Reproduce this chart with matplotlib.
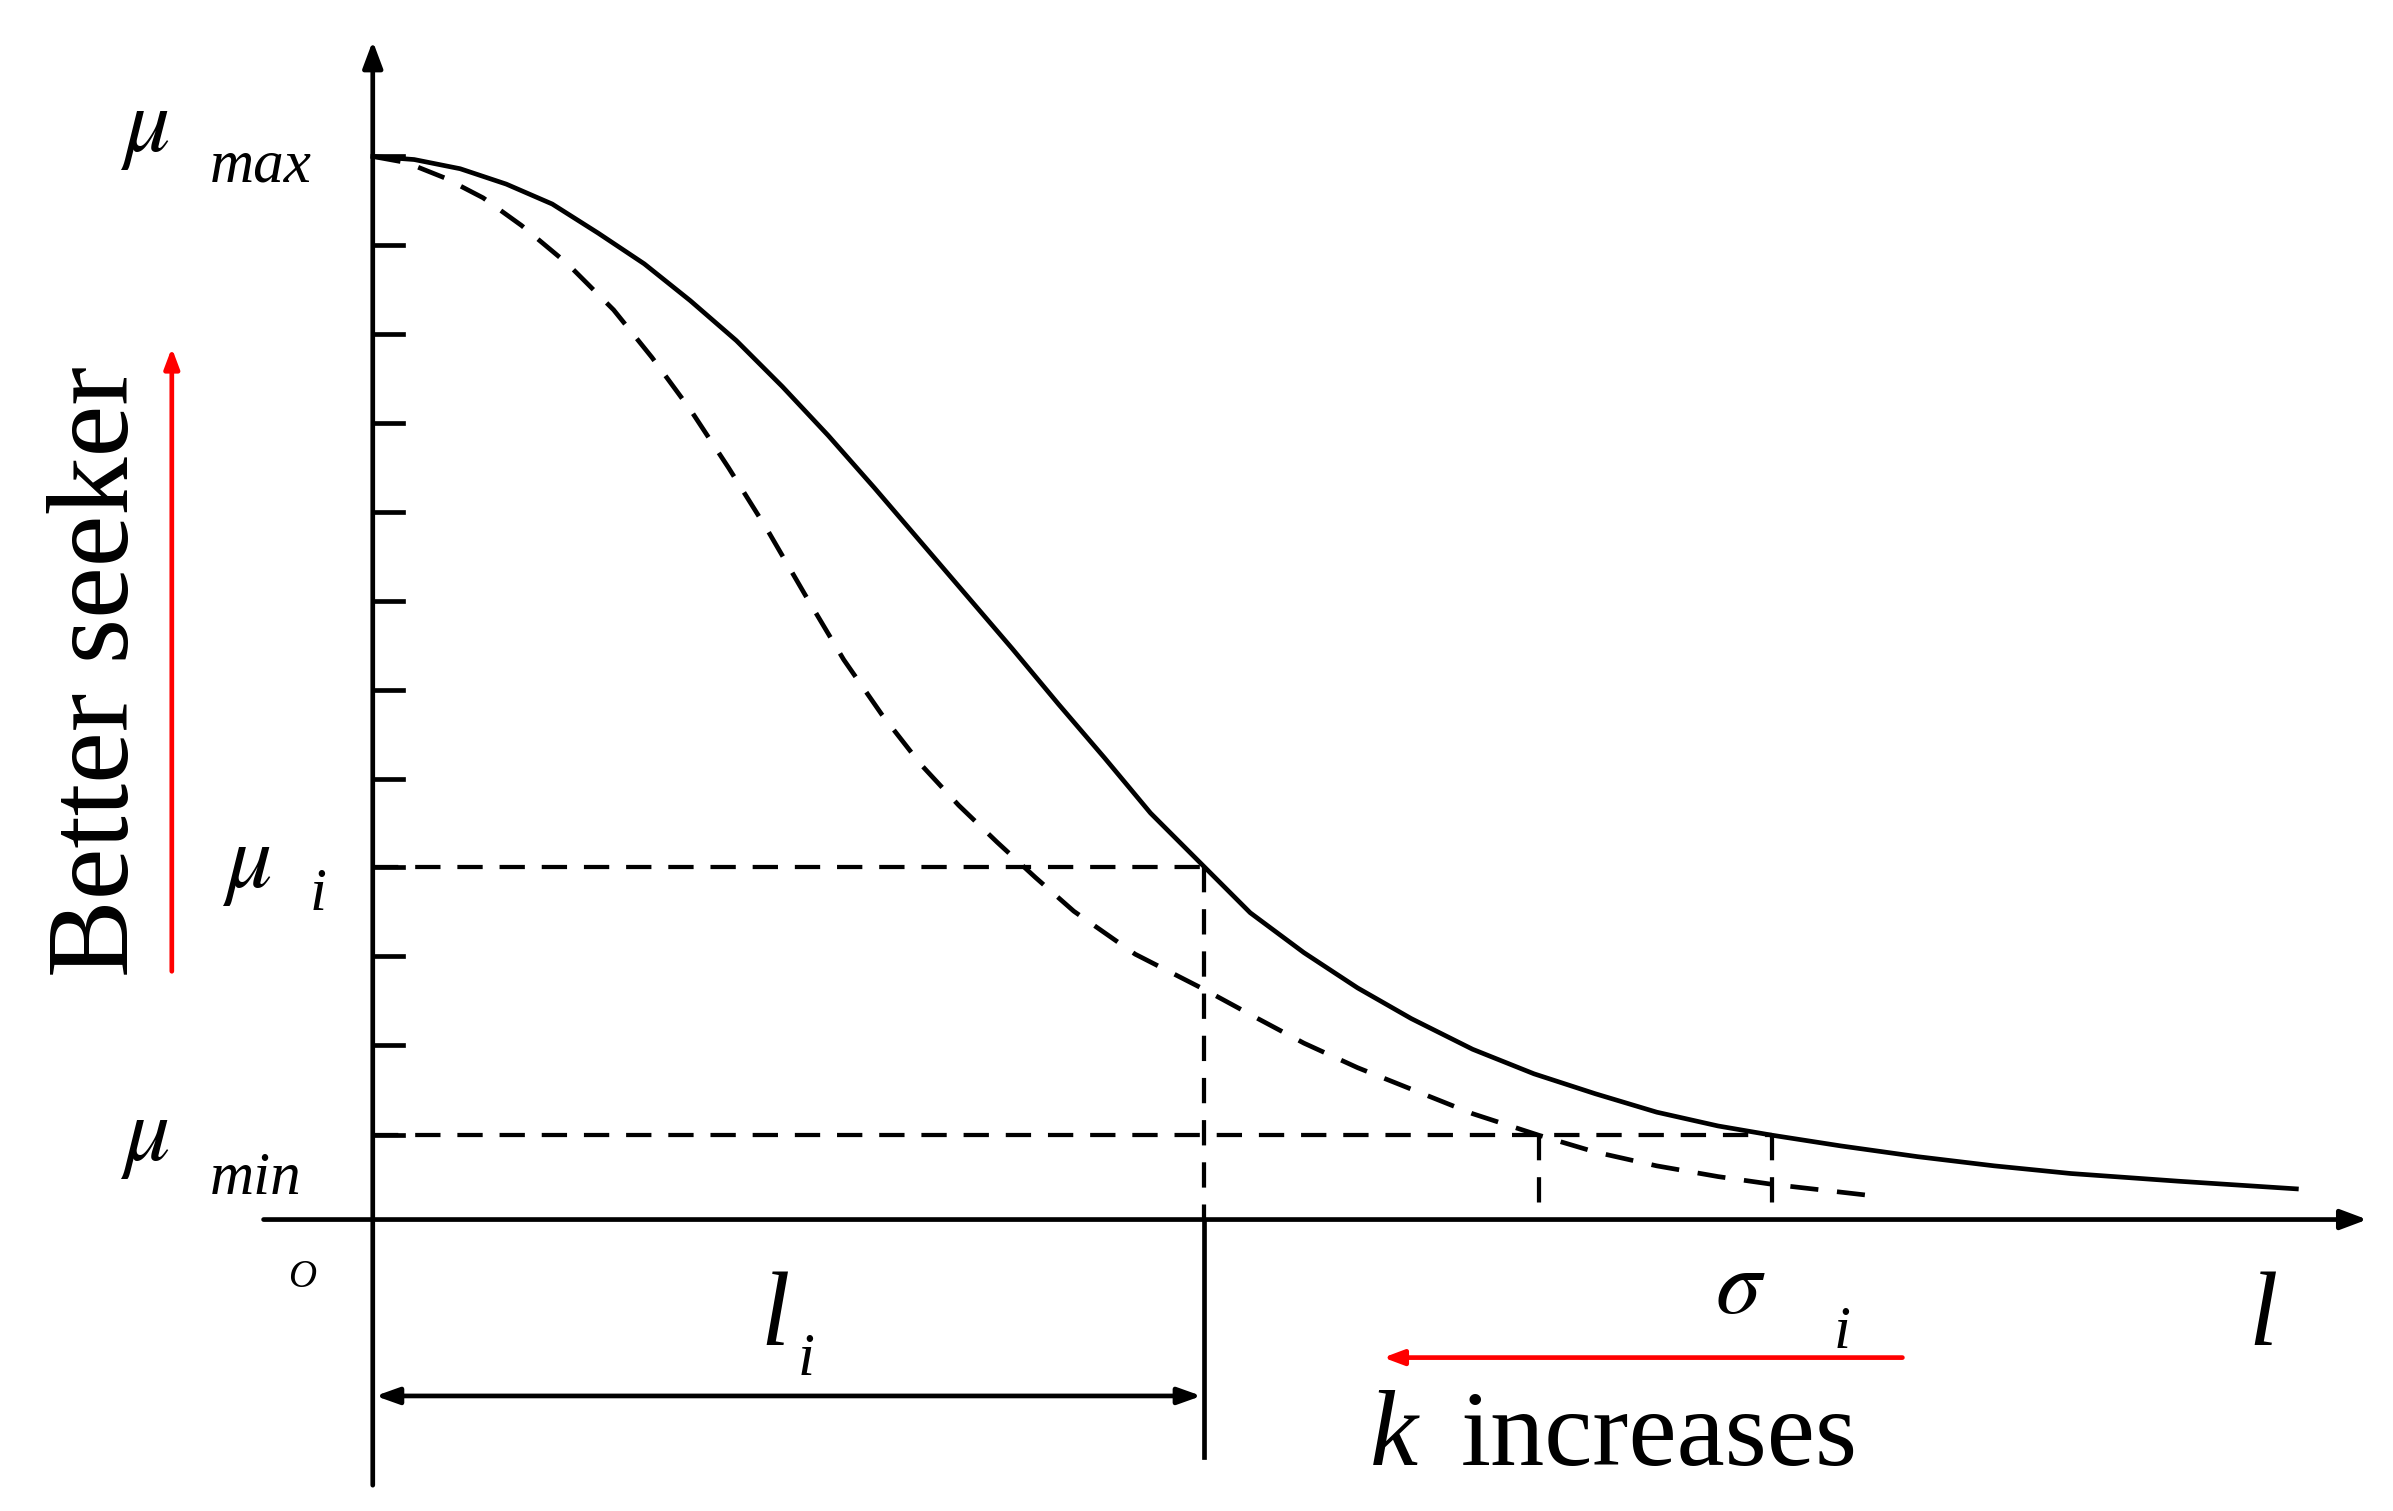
import matplotlib
matplotlib.use("Agg")
import matplotlib.pyplot as plt

# coordinates in reference-pixel space (1560 x 985 display), y downward
solid_x = [243,270,300,330,360,390,420,450,480,510,540,570,600,630,660,690,720,750,785,815,850,885,920,960,1000,1040,1080,1120,1155,1200,1250,1300,1350,1420,1497]
solid_y = [102,104,110,120,133,152,172,196,222,252,284,318,353,388,423,459,494,530,565,595,621,644,664,684,700,713,725,734,740,747,754,760,765,770,775]
dash_x = [243,265,290,315,340,370,400,425,450,475,500,525,550,575,600,625,650,675,700,740,785,820,850,885,920,960,1003,1040,1080,1120,1155,1190,1225]
dash_y = [102,106,116,129,147,172,202,233,267,305,345,388,430,466,498,525,549,572,594,622,645,664,680,696,710,726,740,751,760,767,772,776,780]
tick_y = [160,218,276,334,392,450,508,623,681]

plt.rcParams['font.family'] = ['Liberation Serif', 'DejaVu Serif']
plt.rcParams['mathtext.fontset'] = 'stix'
fig = plt.figure(figsize=(23.93, 15.11), dpi=100)
ax = fig.add_axes([0, 0, 1, 1])
ax.set_xlim(0, 1560); ax.set_ylim(985, 0); ax.axis('off')
S = 1.534
lw = 2.2*S

ax.plot(solid_x, solid_y, color='black', lw=lw)
ax.plot(dash_x, dash_y, color='black', lw=lw, ls=(0, (6, 4)))
ax.annotate('', xy=(243, 25), xytext=(243, 970), arrowprops=dict(arrowstyle='-|>,head_length=1.6,head_width=0.6', color='black', lw=lw))
ax.annotate('', xy=(1545, 795), xytext=(170, 795), arrowprops=dict(arrowstyle='-|>,head_length=1.6,head_width=0.6', color='black', lw=lw))
for y in tick_y + [102, 565, 740]:
    ax.plot([243, 263], [y, y], color='black', lw=lw)
ax.plot([243, 785], [565, 565], color='black', lw=lw*0.9, ls=(0, (6, 4)))
ax.plot([785, 785], [565, 795], color='black', lw=lw*0.9, ls=(0, (6, 4)))
ax.plot([243, 1155], [740, 740], color='black', lw=lw*0.9, ls=(0, (6, 4)))
ax.plot([1003, 1003], [740, 795], color='black', lw=lw*0.9, ls=(0, (6, 4)))
ax.plot([1155, 1155], [740, 795], color='black', lw=lw*0.9, ls=(0, (6, 4)))
ax.plot([785, 785], [795, 950], color='black', lw=lw)
ax.annotate('', xy=(243, 910), xytext=(785, 910), arrowprops=dict(arrowstyle='<|-|>,head_length=1.4,head_width=0.5', color='black', lw=lw))
ax.annotate('', xy=(112, 225), xytext=(112, 635), arrowprops=dict(arrowstyle='-|>,head_length=1.2,head_width=0.45', color='red', lw=lw))
ax.annotate('', xy=(900, 885), xytext=(1242, 885), arrowprops=dict(arrowstyle='-|>,head_length=1.2,head_width=0.45', color='red', lw=lw))

big = 66; sub = 44
ax.text(78, 112, r'$\mu$', fontsize=big, va='bottom')
ax.text(137, 127, 'max', fontsize=sub, style='italic', va='bottom')
ax.text(145, 592, r'$\mu$', fontsize=big, va='bottom')
ax.text(202, 602, 'i', fontsize=sub, style='italic', va='bottom')
ax.text(78, 770, r'$\mu$', fontsize=big, va='bottom')
ax.text(137, 787, 'min', fontsize=sub, style='italic', va='bottom')
ax.text(188, 845, 'O', fontsize=28, style='italic', va='bottom')
ax.text(496, 892, 'l', fontsize=76, style='italic', va='bottom')
ax.text(520, 905, 'i', fontsize=sub, style='italic', va='bottom')
ax.text(1118, 868, r'$\sigma$', fontsize=big, va='bottom')
ax.text(1195, 887, 'i', fontsize=sub, style='italic', va='bottom')
ax.text(1466, 892, 'l', fontsize=76, style='italic', va='bottom')
ax.text(893, 970, 'k', fontsize=78, style='italic', va='bottom')
ax.text(952, 970, 'increases', fontsize=78, va='bottom')
ax.text(65, 438, 'Better seeker', fontsize=84, rotation=90, va='center', ha='center')
fig.savefig('out.png', dpi=100)
